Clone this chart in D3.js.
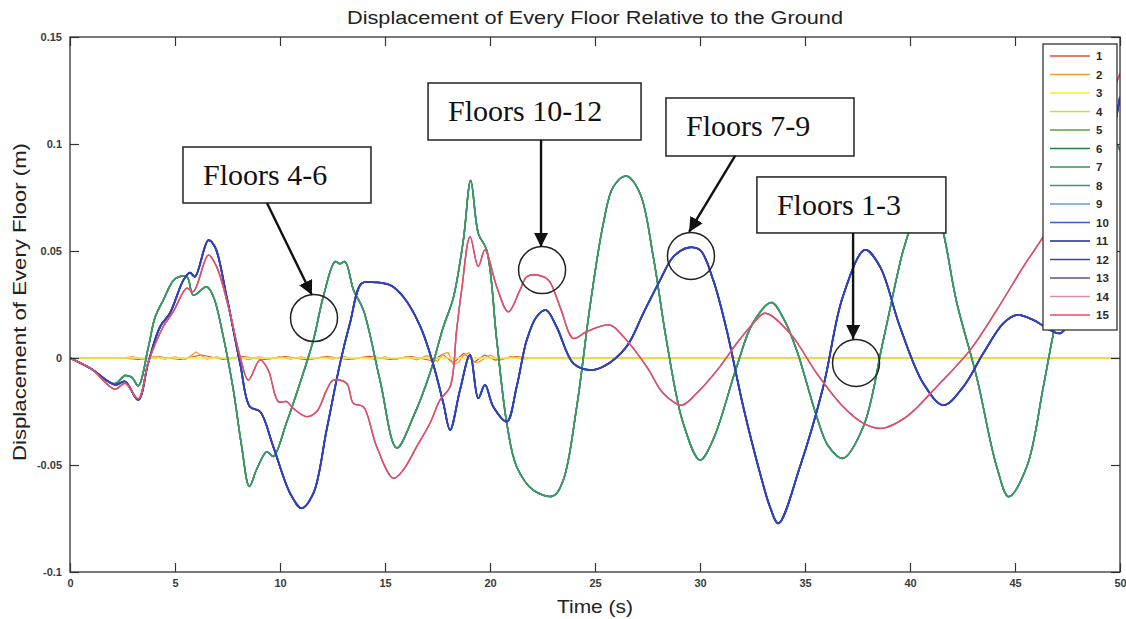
<!DOCTYPE html>
<html><head><meta charset="utf-8">
<script src="https://cdn.jsdelivr.net/npm/d3@7"></script>
<style>body{margin:0;background:#fff}svg{display:block}</style>
</head><body>
<svg id="chart" width="1126" height="619"></svg>
<script>
// ---------------- data ----------------
const floorNames = ["1","2","3","4","5","6","7","8","9","10","11","12","13","14","15"];
const floorColors = ["#e4502c","#f09a30","#f2f028","#c6de3e","#5aa040","#2a7a4a","#3a9060","#3c9872",
                     "#6a9ae0","#3a5cc8","#1a2a8a","#3442bc","#6a4a90","#d890a8","#e84a64"];
const xTicks = [0,5,10,15,20,25,30,35,40,45,50];
const yTicks = [-0.1,-0.05,0,0.05,0.1,0.15];
const yTickLabels = ["-0.1","-0.05","0","0.05","0.1","0.15"];

// [time (s), displacement (m)]
const floor1 = [[0,0],[2.5,0],[3.25,-0.0006],[4.25,0.0005],[5.25,-0.0007],[6.25,0.0014],[7.25,-0.0006],
  [8.25,0.0007],[9.25,-0.0007],[10.25,0.0006],[11.25,-0.0008],[12.25,0.0006],[13.25,-0.0007],[14.25,0.0008],
  [15.25,-0.0006],[16.25,0.0007],[17.25,-0.0013],[17.75,0.0017],[18.25,-0.0024],[18.75,0.0022],[19.25,-0.0019],
  [19.75,0.0014],[20.25,-0.001],[21.25,0.0007],[22,0],[50,0]];
const floor2 = [[0,0],[2.5,0],[3,0.0006],[3.5,-0.0005],[4,0.0007],[4.5,-0.0006],[5,0.0005],[5.5,-0.0007],
  [6,0.0028],[6.5,-0.0005],[7,0.0006],[7.5,-0.0007],[8,0.0005],[8.5,-0.0008],[9,0.0006],[9.5,-0.0005],
  [10,0.0007],[10.5,-0.0006],[11,0.0005],[11.5,-0.0007],[12,0.0006],[12.5,-0.0005],[13,0.0008],[13.5,-0.0006],
  [14,0.0005],[14.5,-0.0007],[15,0.0006],[15.5,-0.0008],[16,0.0007],[16.5,-0.0009],[17,0.0011],[17.5,-0.0016],
  [17.75,0.0018],[18,0.0026],[18.25,-0.003],[18.5,-0.0021],[18.75,0.0014],[19,0.0024],[19.25,-0.002],
  [19.5,-0.0018],[20,0.0014],[20.5,-0.001],[21,0.0008],[21.5,-0.0006],[22,0],[50,0]];
const floor3 = [[0,0],[50,0]];
const floors4to8 = [[0,0],[1,-0.005],[2.1,-0.012],[2.62,-0.0082],[2.95,-0.009],[3.25,-0.013],[3.73,0.005],
  [4.05,0.019],[4.44,0.027],[5.0,0.037],[5.56,0.038],[5.87,0.0294],[6.51,0.0333],[6.83,0.0286],[7.3,0.010],
  [7.78,-0.015],[8.17,-0.041],[8.54,-0.060],[8.89,-0.052],[9.37,-0.0438],[9.68,-0.046],[10.3,-0.0305],
  [10.95,-0.0118],[11.59,0.0084],[12.06,0.0286],[12.62,0.045],[12.85,0.044],[13.1,0.045],[13.5,0.0318],
  [13.97,0.0224],[14.76,-0.0103],[15.56,-0.042],[16.35,-0.0274],[17.14,-0.0071],[17.78,0.0146],[18.25,0.028],
  [18.73,0.055],[19.08,0.0829],[19.45,0.058],[19.84,0.0505],[20.32,0.0084],[20.8,-0.0305],[21.27,-0.0508],
  [22.06,-0.0617],[23.0,-0.0645],[23.49,-0.057],[24.13,-0.0228],[24.76,0.024],[25.4,0.063],[25.87,0.080],
  [26.5,0.085],[27.14,0.077],[27.78,0.047],[28.4,0.0084],[29.2,-0.0305],[30.0,-0.0477],[30.63,-0.038],
  [31.75,-0.004],[32.5,0.016],[33.4,0.0259],[34.0,0.018],[34.6,0.0037],[35.56,-0.0274],[36.1,-0.041],
  [36.8,-0.0469],[37.78,-0.032],[38.73,0.0084],[39.68,0.0505],[40.16,0.0645],[40.9,0.081],[41.59,0.0584],
  [42.2,0.027],[43.17,-0.0087],[44.13,-0.0508],[44.7,-0.0648],[45.56,-0.0508],[46.35,-0.0134],[46.83,0.0115],
  [47.5,0.04],[48.5,0.075],[49.5,0.097],[49.8,0.1],[50,0.097]];
const floors9to12 = [[0,0],[1,-0.005],[2.14,-0.0125],[2.62,-0.011],[3.25,-0.0196],[3.73,-0.002],[4.29,0.0146],
  [4.76,0.021],[5.4,0.0364],[5.71,0.0399],[5.95,0.038],[6.59,0.0551],[6.9,0.052],[7.46,0.0286],[8.1,-0.0025],
  [8.57,-0.0228],[9.05,-0.025],[9.68,-0.0414],[10.48,-0.0632],[11.03,-0.0702],[11.59,-0.0632],[12.22,-0.0336],
  [12.86,-0.0025],[13.33,0.0162],[13.89,0.0349],[14.44,0.0354],[15.24,0.0341],[15.87,0.0286],[16.67,0.015],
  [17.3,-0.003],[17.78,-0.0212],[18.1,-0.0336],[18.57,-0.015],[19.05,0.0014],[19.44,-0.0188],[19.76,-0.0126],
  [20.16,-0.0228],[20.8,-0.0297],[21.27,-0.0134],[21.75,0.0084],[22.22,0.0193],[22.67,0.0224],[23.17,0.0146],
  [23.97,-0.0025],[24.76,-0.0056],[25.4,-0.004],[26.5,0.0053],[27.3,0.0209],[28.1,0.0364],[28.73,0.0473],
  [29.44,0.0516],[30.0,0.0505],[30.63,0.0364],[31.27,0.0131],[32.06,-0.0228],[32.86,-0.0539],[33.33,-0.0695],
  [33.73,-0.0773],[34.76,-0.0508],[35.87,-0.0134],[36.8,0.0286],[37.86,0.0505],[38.57,0.0427],[39.52,0.0146],
  [40.63,-0.0118],[41.59,-0.022],[42.54,-0.0134],[43.49,0.0022],[44.44,0.0162],[45.08,0.0201],[45.87,0.0178],
  [46.67,0.0131],[47.14,0.0115],[47.46,0.0146],[48.0,0.025],[48.5,0.045],[49.0,0.07],[49.5,0.095],[50,0.122]];
const floors13to15 = [[0,0],[1,-0.005],[2.14,-0.0146],[2.62,-0.0118],[3.25,-0.019],[3.73,-0.002],[4.44,0.0146],
  [4.92,0.0217],[5.56,0.0326],[5.87,0.031],[6.59,0.0481],[6.98,0.0427],[7.62,0.0209],[8.1,0.0006],[8.49,-0.0103],
  [9.05,-0.0009],[9.44,-0.0056],[9.92,-0.0204],[10.32,-0.0204],[10.63,-0.0235],[11.27,-0.0274],[11.75,-0.025],
  [12.22,-0.015],[12.54,-0.0103],[13.17,-0.0118],[13.49,-0.0212],[13.97,-0.0228],[14.6,-0.0414],[15.4,-0.0562],
  [15.87,-0.0523],[16.51,-0.0414],[17.14,-0.0305],[17.62,-0.0196],[18.1,-0.0134],[18.41,0.013],[18.65,0.0318],
  [19.05,0.0567],[19.44,0.0427],[19.76,0.0505],[20.32,0.0333],[20.87,0.0216],[21.43,0.0318],[21.75,0.038],
  [22.22,0.0388],[22.78,0.0364],[23.33,0.024],[23.97,0.0092],[24.6,0.0123],[25.71,0.0154],[26.35,0.01],
  [27.46,-0.004],[28.25,-0.0165],[29.13,-0.022],[29.84,-0.0165],[30.95,-0.004],[31.75,0.0069],[32.54,0.0162],
  [33.1,0.0209],[34.29,0.0115],[35.56,-0.0072],[36.82,-0.0228],[37.78,-0.0305],[38.65,-0.0329],[39.84,-0.0274],
  [41.27,-0.0134],[42.86,0.0037],[44.13,0.0224],[45.4,0.0427],[46.35,0.0567],[47.5,0.075],[48.5,0.095],
  [49.5,0.12],[50,0.133]];
const floorSeries = [floor1, floor2, floor3,
  floors4to8, floors4to8, floors4to8, floors4to8, floors4to8,
  floors9to12, floors9to12, floors9to12, floors9to12,
  floors13to15, floors13to15, floors13to15];

// annotation targets and anchors (data units)
const annLabels = ["Floors 4-6","Floors 10-12","Floors 7-9","Floors 1-3"];
const annTargets = [[11.62,0.0187],[22.48,0.0411],[29.57,0.0477],[37.43,-0.0023]];
const annBoxAnchors = [[5.38,0.0986],[17.05,0.1285],[28.38,0.1215],[32.71,0.0846]];
const annArrowFrom = [[9.38,0.0724],[22.43,0.1019],[31.67,0.0944],[37.29,0.0584]];
const annArrowTo = [[11.52,0.0294],[22.43,0.0519],[29.48,0.0589],[37.29,0.0089]];

// ---------------- layout ----------------
const W = 1126, H = 619;
const m = {left:70, right:6, top:37, bottom:47};
const svg = d3.select("#chart");
const x = d3.scaleLinear().domain([0,50]).range([m.left, W - m.right]);
const y = d3.scaleLinear().domain([-0.1,0.15]).range([H - m.bottom, m.top]);
const iw = x.range()[1]-x.range()[0], ih = y.range()[0]-y.range()[1];

const g = svg.append("g");
svg.append("defs").append("clipPath").attr("id","clip")
  .append("rect").attr("x",x(0)).attr("y",y(0.15)).attr("width",iw).attr("height",ih);

const line = d3.line().x(d=>x(d[0])).y(d=>y(d[1])).curve(d3.curveCatmullRom.alpha(0.5));
const lineLin = d3.line().x(d=>x(d[0])).y(d=>y(d[1]));
const widths = [1.2,1.2,1.6,1.5,1.5,1.5,1.5,1.5,1.7,1.7,1.7,1.8,1.3,1.3,1.4];
const lg = g.append("g").attr("clip-path","url(#clip)");
floorSeries.forEach((s,i)=>{
  const pts = s.slice().sort((a,b)=>a[0]-b[0]);
  lg.append("path").attr("d", i<3 ? lineLin(pts) : line(pts))
    .attr("fill","none").attr("stroke",floorColors[i]).attr("stroke-width",widths[i])
    .attr("stroke-linejoin","round");
});

// axes
const tickLen = 9;
const axB = g.append("g").attr("transform",`translate(0,${y(-0.1)})`)
  .call(d3.axisBottom(x).tickValues(xTicks).tickSizeInner(-tickLen).tickSizeOuter(0).tickPadding(7).tickFormat(d3.format("d")));
const axL = g.append("g").attr("transform",`translate(${x(0)},0)`)
  .call(d3.axisLeft(y).tickValues(yTicks).tickSizeInner(-tickLen).tickSizeOuter(0).tickPadding(8).tickFormat((d,i)=>yTickLabels[i]));
const axT = g.append("g").attr("transform",`translate(0,${y(0.15)})`)
  .call(d3.axisTop(x).tickValues(xTicks).tickSizeInner(-tickLen).tickSizeOuter(0).tickFormat(""));
const axR = g.append("g").attr("transform",`translate(${x(50)},0)`)
  .call(d3.axisRight(y).tickValues(yTicks).tickSizeInner(-tickLen).tickSizeOuter(0).tickFormat(""));
[axB,axL,axT,axR].forEach(a=>{
  a.select(".domain").remove();
  a.selectAll("line").attr("stroke","#333").attr("stroke-width",1.2);
  a.selectAll("text").attr("font-family","Liberation Sans, Arial, sans-serif").attr("font-size",11)
    .attr("font-weight","bold").attr("fill","#3a3a3a");
});
g.append("rect").attr("x",x(0)).attr("y",y(0.15)).attr("width",iw).attr("height",ih)
  .attr("fill","none").attr("stroke","#333").attr("stroke-width",1.3);

// titles
const cx = (x(0)+x(50))/2;
g.append("text").attr("x",cx).attr("y",24).attr("text-anchor","middle")
  .attr("font-family","Liberation Sans, Arial, sans-serif").attr("font-size",18).attr("fill","#222")
  .attr("textLength",496).attr("lengthAdjust","spacingAndGlyphs")
  .text("Displacement of Every Floor Relative to the Ground");
g.append("text").attr("x",cx).attr("y",613).attr("text-anchor","middle")
  .attr("font-family","Liberation Sans, Arial, sans-serif").attr("font-size",19).attr("fill","#222")
  .attr("textLength",76).attr("lengthAdjust","spacingAndGlyphs")
  .text("Time (s)");
g.append("text").attr("transform",`translate(26,${302}) rotate(-90)`).attr("text-anchor","middle")
  .attr("font-family","Liberation Sans, Arial, sans-serif").attr("font-size",19).attr("fill","#222")
  .attr("textLength",318).attr("lengthAdjust","spacingAndGlyphs")
  .text("Displacement of Every Floor (m)");

// legend
const legX = 1043, legY = 44, legW = 74, legH = 286, rowH = 18.5;
const leg = g.append("g");
leg.append("rect").attr("x",legX).attr("y",legY).attr("width",legW).attr("height",legH)
  .attr("fill","#fff").attr("stroke","#333").attr("stroke-width",1.3);
floorNames.forEach((n,i)=>{
  const yy = legY + 12 + i*rowH;
  leg.append("line").attr("x1",legX+7).attr("x2",legX+47).attr("y1",yy).attr("y2",yy)
    .attr("stroke",floorColors[i]).attr("stroke-width",1.6);
  leg.append("text").attr("x",legX+53).attr("y",yy).attr("dy","0.36em")
    .attr("font-family","Liberation Sans, Arial, sans-serif").attr("font-size",11.5).attr("font-weight","bold")
    .attr("fill","#2a2a2a").text(n);
});

// annotations
const boxSizes = [[188,56],[213,57],[188,58],[189,56]];
svg.append("defs").append("marker").attr("id","ah").attr("viewBox","0 0 10 10").attr("refX",10).attr("refY",5)
  .attr("markerWidth",6).attr("markerHeight",6).attr("markerUnits","strokeWidth").attr("orient","auto")
  .append("path").attr("d","M0,0 L10,5 L0,10 z").attr("fill","#111");
const ann = g.append("g");
annLabels.forEach((lab,i)=>{
  const bx = x(annBoxAnchors[i][0]), by = y(annBoxAnchors[i][1]);
  ann.append("rect").attr("x",bx).attr("y",by).attr("width",boxSizes[i][0]).attr("height",boxSizes[i][1])
    .attr("fill","#fff").attr("stroke","#222").attr("stroke-width",1.5);
  ann.append("text").attr("x",bx+20).attr("y",by+38)
    .attr("font-family","Liberation Serif, Times New Roman, serif").attr("font-size",30).attr("fill","#111")
    .text(lab);
  ann.append("line").attr("x1",x(annArrowFrom[i][0])).attr("y1",y(annArrowFrom[i][1]))
    .attr("x2",x(annArrowTo[i][0])).attr("y2",y(annArrowTo[i][1]))
    .attr("stroke","#111").attr("stroke-width",2.4).attr("marker-end","url(#ah)");
  ann.append("circle").attr("cx",x(annTargets[i][0])).attr("cy",y(annTargets[i][1])).attr("r",23.5)
    .attr("fill","none").attr("stroke","#222").attr("stroke-width",1.5);
});
</script>
</body></html>
